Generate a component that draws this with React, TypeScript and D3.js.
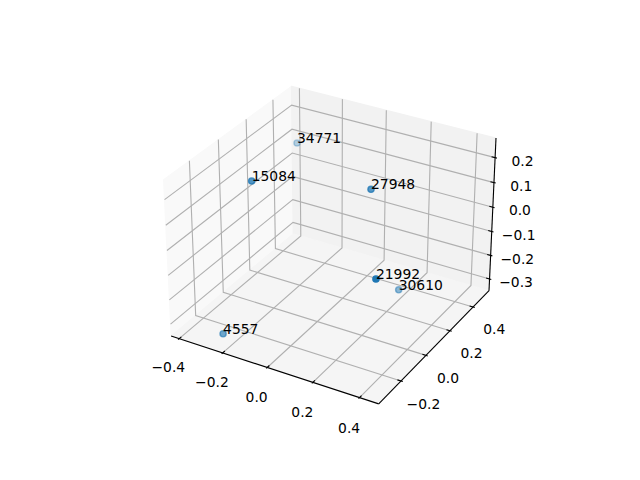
import React from "react";
import * as d3 from "d3";

const labels = ["34771", "15084", "27948", "4557", "21992", "30610"];
const xs = [-0.3816, -0.1947, 0.1862, -0.2329, 0.4266, 0.2351];
const ys = [0.4895, -0.148, 0.0866, -0.3161, -0.3056, 0.2322];
const zs = [0.0771, 0.2359, 0.1968, -0.3089, 0.0919, -0.2637];
const xTicks = [-0.4, -0.2, 0, 0.2, 0.4];
const yTicks = [-0.2, 0, 0.2, 0.4];
const zTicks = [-0.3, -0.2, -0.1, 0, 0.1, 0.2];
const xLim: [number, number] = [-0.4375, 0.481];
const yLim: [number, number] = [-0.372, 0.543];
const zLim: [number, number] = [-0.35, 0.2775];

const W = 640, H = 480;
const FONT = "'DejaVu Sans', sans-serif";
const FS = 13.89;
const aspect = [4, 4, 3];
const s = (1.8294640721620434 * 25) / 24 / Math.hypot(4, 4, 3);
const [bx, by, bz] = aspect.map((v) => v * s);
const elev = (30 * Math.PI) / 180, azim = (-60 * Math.PI) / 180, dist = 10;
const wv = [Math.cos(elev) * Math.cos(azim), Math.cos(elev) * Math.sin(azim), Math.sin(elev)];
const uLen = Math.hypot(wv[0], wv[1]);
const uv = [-wv[1] / uLen, wv[0] / uLen, 0];
const vv = [
  wv[1] * uv[2] - wv[2] * uv[1],
  wv[2] * uv[0] - wv[0] * uv[2],
  wv[0] * uv[1] - wv[1] * uv[0],
];
const dot = (a: number[], b: number[]) => a[0] * b[0] + a[1] * b[1] + a[2] * b[2];

const sx = d3.scaleLinear().domain(xLim).range([-bx / 2, bx / 2]);
const sy = d3.scaleLinear().domain(yLim).range([-by / 2, by / 2]);
const sz = d3.scaleLinear().domain(zLim).range([-bz / 2, bz / 2]);
const axesSize = 369.6;
const screenX = d3.scaleLinear().domain([-0.095, 0.09]).range([143.2, 143.2 + axesSize]);
const screenY = d3.scaleLinear().domain([-0.095, 0.09]).range([427.2, 427.2 - axesSize]);

const boxToScreen = (p: number[]): [number, number] => {
  const f = dist - dot(wv, p);
  return [screenX(dot(uv, p) / f), screenY(dot(vv, p) / f)];
};
const toBox = (x: number, y: number, z: number) => [sx(x), sy(y), sz(z)];
const project = (x: number, y: number, z: number) => boxToScreen(toBox(x, y, z));
const line = d3.line();
const depth = (x: number, y: number, z: number) => dot(wv, toBox(x, y, z));

const [x0, x1] = xLim, [y0, y1] = yLim, [z0, z1] = zLim;
const pathOf = (pts: number[][]) => line(pts.map((p) => project(p[0], p[1], p[2])))!;
const dxTick = (x1 - x0) / 12, dyTick = (y1 - y0) / 12;
const fmt = (v: number) => v.toFixed(1).replace("-", "\u2212");

const depths = xs.map((x, i) => depth(x, ys[i], zs[i]));
const alpha = d3.scaleLinear().domain(d3.extent(depths) as [number, number]).range([0.3, 1]);
const order = d3.range(xs.length).sort((a, b) => depths[a] - depths[b]);

const panes = [
  { c: "#f9f9f9", pts: [[x0, y0, z0], [x0, y1, z0], [x0, y1, z1], [x0, y0, z1]] },
  { c: "#f2f2f2", pts: [[x0, y1, z0], [x1, y1, z0], [x1, y1, z1], [x0, y1, z1]] },
  { c: "#f5f5f5", pts: [[x0, y0, z0], [x1, y0, z0], [x1, y1, z0], [x0, y1, z0]] },
];

const Label = ({ p, t }: { p: number[]; t: string }) => {
  const [a, b] = boxToScreen(p);
  return (
    <text x={a} y={b} dy="0.36em" textAnchor="middle" fontFamily={FONT} fontSize={FS} fill="#000">
      {t}
    </text>
  );
};

export default function App() {
  return (
    <svg width={W} height={H} style={{ position: "absolute", left: 0, top: 0, background: "#fff" }}>
      {panes.map((p, i) => (
        <path key={i} d={pathOf(p.pts) + "Z"} fill={p.c} stroke={p.c} strokeWidth={1} />
      ))}
      <g fill="none" stroke="#b0b0b0" strokeWidth={1.11}>
        {xTicks.map((t) => <path key={t} d={pathOf([[t, y0, z0], [t, y1, z0], [t, y1, z1]])} />)}
        {yTicks.map((t) => <path key={t} d={pathOf([[x1, t, z0], [x0, t, z0], [x0, t, z1]])} />)}
        {zTicks.map((t) => <path key={t} d={pathOf([[x0, y0, t], [x0, y1, t], [x1, y1, t]])} />)}
      </g>
      <g fill="none" stroke="#000" strokeWidth={1.11}>
        <path d={pathOf([[x0, y0, z0], [x1, y0, z0]])} />
        <path d={pathOf([[x1, y0, z0], [x1, y1, z0]])} />
        <path d={pathOf([[x1, y1, z0], [x1, y1, z1]])} />
        {xTicks.map((t) => <path key={t} d={pathOf([[t, y0 - 0.1 * dyTick, z0], [t, y0 + 0.2 * dyTick, z0]])} />)}
        {yTicks.map((t) => <path key={t} d={pathOf([[x1 + 0.1 * dxTick, t, z0], [x1 - 0.2 * dxTick, t, z0]])} />)}
        {zTicks.map((t) => <path key={t} d={pathOf([[x1 + 0.1 * dxTick, y1, t], [x1 - 0.2 * dxTick, y1, t]])} />)}
      </g>
      {xTicks.map((t) => {
        const b = toBox(t, y0, z0);
        return <Label key={t} t={fmt(t)} p={[b[0] + 0.0144, b[1] - 0.125, b[2] - 0.0937]} />;
      })}
      {yTicks.map((t) => {
        const b = toBox(x1, t, z0);
        return <Label key={t} t={fmt(t)} p={[b[0] + 0.125, b[1], b[2] - 0.0937]} />;
      })}
      {zTicks.map((t) => {
        const b = toBox(x1, y1, t);
        return <Label key={t} t={fmt(t)} p={[b[0] + 0.1335, b[1] + 0.039, b[2]]} />;
      })}
      {order.map((i) => {
        const [a, b] = project(xs[i], ys[i], zs[i]);
        const o = alpha(depths[i]);
        return <circle key={i} cx={a} cy={b} r={3.1} fill="#1f77b4" fillOpacity={o} stroke="#1f77b4" strokeOpacity={o} strokeWidth={1.39} />;
      })}
      {labels.map((t, i) => {
        const [a, b] = project(xs[i], ys[i], zs[i]);
        return (
          <text key={t} x={a} y={b} fontFamily={FONT} fontSize={FS} fill="#000">
            {t}
          </text>
        );
      })}
    </svg>
  );
}
